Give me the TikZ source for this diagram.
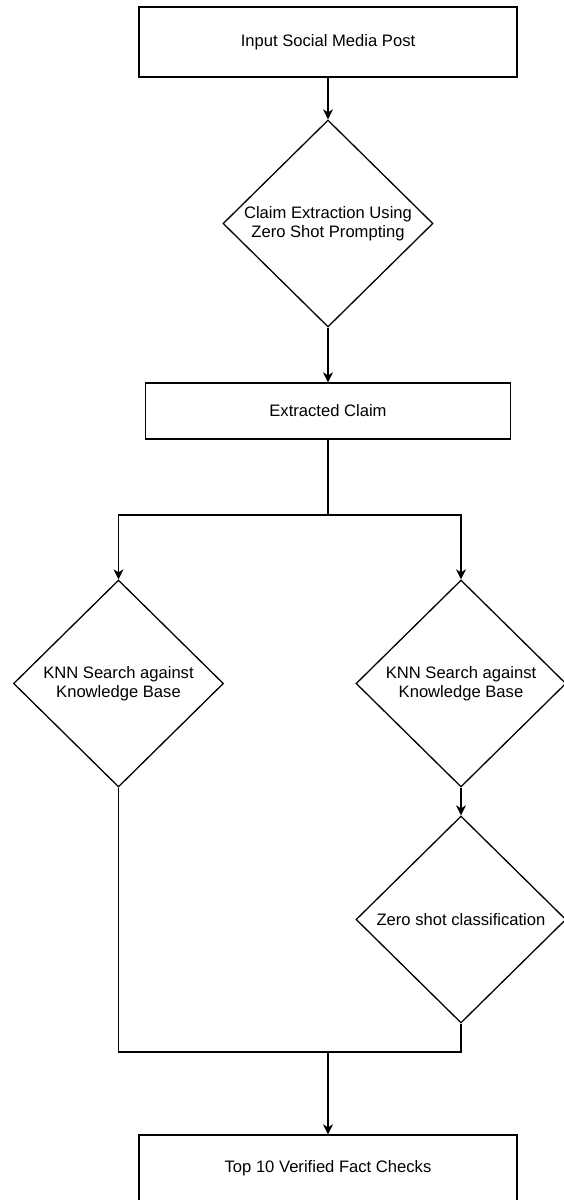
\documentclass[tikz,border=0pt]{standalone}
\usepackage{fontspec}
\setmainfont{Liberation Sans}
\usepackage{tikz}
\usetikzlibrary{arrows.meta, positioning, shapes.geometric, calc}

\begin{document}
\begin{tikzpicture}[x=1pt, y=-1pt, font=\fontsize{16.6}{19}\selectfont,
  flowbox/.style={draw, line width=1.3pt, rectangle, inner sep=0pt, align=center, anchor=center},
  flowdec/.style={draw, line width=1.3pt, diamond, inner sep=0pt, align=center, anchor=center,
                  minimum width=210pt, minimum height=207pt},
  flowarr/.style={line width=1.3pt, -{Stealth[length=10pt, width=10pt, inset=3pt]}},
  flowln/.style={line width=1.3pt},
]
  \useasboundingbox (0,0) rectangle (564,1200);
  \def\xm{328}\def\xl{118.5}\def\xr{461}
  \node[flowbox, minimum width=378pt, minimum height=70pt] (post) at (\xm,42) {Input Social Media Post};
  \node[flowdec] (extract) at (\xm,223.5) {Claim Extraction Using\\Zero Shot Prompting};
  \node[flowbox, minimum width=365pt, minimum height=56pt] (claim) at (\xm,411) {Extracted Claim};
  \node[flowdec] (knnL) at (\xl,683.5) {KNN Search against\\Knowledge Base};
  \node[flowdec] (knnR) at (\xr,683.5) {KNN Search against\\Knowledge Base};
  \node[flowdec] (zsc) at (\xr,919.5) {Zero shot classification};
  \node[flowbox, minimum width=378pt, minimum height=66pt] (top10) at (\xm,1168) {Top 10 Verified Fact Checks};
  \coordinate (split) at (\xm,515);
  \coordinate (merge) at (\xm,1052);

  \draw[flowarr] (post) -- (extract);
  \draw[flowarr] (extract) -- (claim);
  \draw[flowln] (claim) -- (split);
  \draw[flowarr] (split) -| (knnL.north);
  \draw[flowarr] (split) -| (knnR.north);
  \draw[flowarr] (knnR) -- (zsc);
  \draw[flowln] (knnL.south) |- (merge);
  \draw[flowln] (zsc.south) |- (merge);
  \draw[flowarr] (merge) -- (top10);
\end{tikzpicture}
\end{document}
